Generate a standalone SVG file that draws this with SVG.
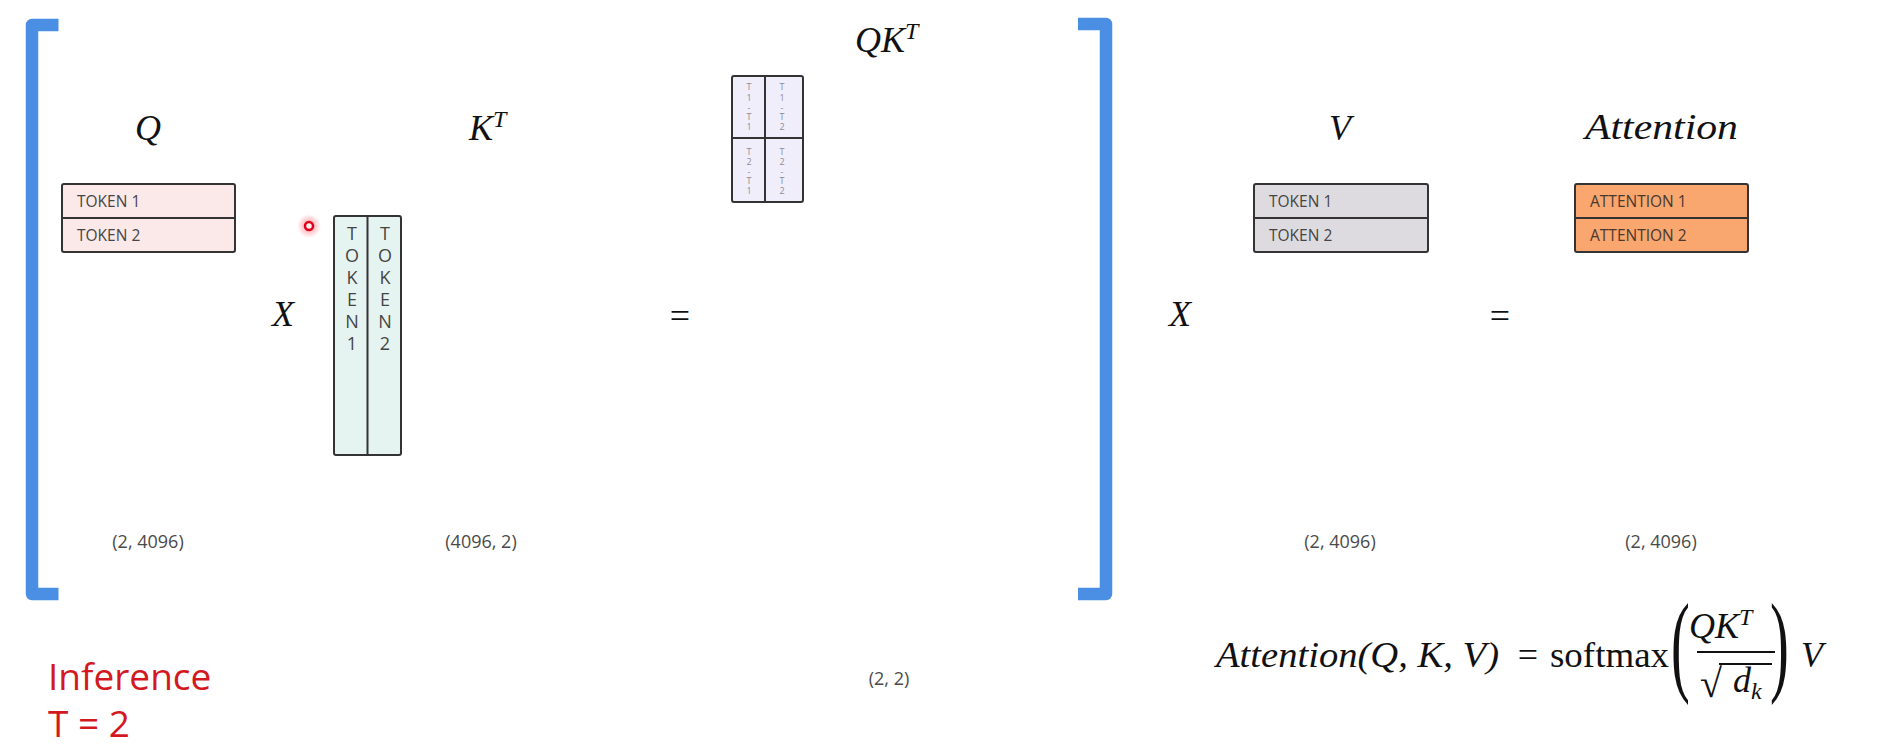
<svg xmlns="http://www.w3.org/2000/svg" width="1881" height="750" viewBox="0 0 1881 750">
<defs>
<radialGradient id="glow">
<stop offset="0" stop-color="#ff3040" stop-opacity="0.55"/>
<stop offset="1" stop-color="#ff3040" stop-opacity="0"/>
</radialGradient>
</defs>
<style>
.br{fill:none;stroke:#4a8fe4;stroke-width:12.5;stroke-linejoin:round}
.box{stroke:#333;stroke-width:2}
.div{stroke:#333;stroke-width:2}
.tk{font-family:"Open Sans","Liberation Sans",sans-serif;font-size:15.5px;fill:#454545}
.at{fill:#4a382e}
.vt{font-family:"Open Sans","Liberation Sans",sans-serif;font-size:18px;fill:#454545;text-anchor:middle}
.sm{font-family:"Open Sans","Liberation Sans",sans-serif;font-size:9px;fill:#8c8c98;text-anchor:middle}
.dim{font-family:"Open Sans","Liberation Sans",sans-serif;font-size:18px;fill:#4a4a4a;text-anchor:middle}
.m{font-family:"Liberation Serif","DejaVu Serif",serif;font-style:italic;font-size:36px;fill:#111}
.mu{font-family:"Liberation Serif","DejaVu Serif",serif;font-size:36px;fill:#111}
.sup{font-size:24px}
.red{font-family:"Open Sans","Liberation Sans",sans-serif;font-size:37px;fill:#d3191f}
</style>
<rect width="1881" height="750" fill="#ffffff"/>

<g id="brackets">
<path class="br" d="M58.5 25 H32 V594 H58.5"/>
<path class="br" d="M1078 24 H1106 V594 H1078"/>
</g>

<g id="connectors"/>

<g id="Q">
<text class="m" x="148" y="140" text-anchor="middle">Q</text>
<rect class="box" x="62" y="184" width="173" height="68" rx="2" fill="#fbe8e8"/>
<line class="div" x1="62" y1="218" x2="235" y2="218"/>
<text class="tk" x="77" y="207">TOKEN 1</text>
<text class="tk" x="77" y="241">TOKEN 2</text>
<text class="dim" x="148" y="548">(2, 4096)</text>
</g>

<g id="op-x1">
<text class="m" x="283" y="326" text-anchor="middle">X</text>
</g>

<g id="KT">
<text class="m" x="469" y="140">K<tspan class="sup" dy="-13">T</tspan></text>
<rect class="box" x="334" y="216" width="67" height="239" rx="2" fill="#e6f4f1"/>
<line class="div" x1="367.5" y1="216" x2="367.5" y2="455"/>
<text class="vt"><tspan x="352" y="240">T</tspan><tspan x="352" y="262">O</tspan><tspan x="352" y="284">K</tspan><tspan x="352" y="306">E</tspan><tspan x="352" y="328">N</tspan><tspan x="352" y="350">1</tspan></text>
<text class="vt"><tspan x="385" y="240">T</tspan><tspan x="385" y="262">O</tspan><tspan x="385" y="284">K</tspan><tspan x="385" y="306">E</tspan><tspan x="385" y="328">N</tspan><tspan x="385" y="350">2</tspan></text>
<text class="dim" x="481" y="548">(4096, 2)</text>
</g>

<g id="pointer">
<circle cx="309" cy="226" r="12" fill="url(#glow)"/>
<circle cx="309" cy="226" r="4" fill="#fff0f0" stroke="#e0001b" stroke-width="2.5"/>
</g>

<g id="op-eq1">
<text class="mu" x="680" y="328" text-anchor="middle">=</text>
</g>

<g id="QKT">
<text class="m" x="855" y="52">QK<tspan class="sup" dy="-13">T</tspan></text>
<rect class="box" x="732" y="76" width="71" height="126" rx="2" fill="#f1eefb"/>
<line class="div" x1="765" y1="76" x2="765" y2="202"/>
<line class="div" x1="732" y1="138" x2="803" y2="138"/>
<text class="sm"><tspan x="749" y="90">T</tspan><tspan x="749" y="101">1</tspan><tspan x="749" y="111">-</tspan><tspan x="749" y="120">T</tspan><tspan x="749" y="130">1</tspan></text>
<text class="sm"><tspan x="782" y="90">T</tspan><tspan x="782" y="101">1</tspan><tspan x="782" y="111">-</tspan><tspan x="782" y="120">T</tspan><tspan x="782" y="130">2</tspan></text>
<text class="sm"><tspan x="749" y="155">T</tspan><tspan x="749" y="165">2</tspan><tspan x="749" y="175">-</tspan><tspan x="749" y="184">T</tspan><tspan x="749" y="194">1</tspan></text>
<text class="sm"><tspan x="782" y="155">T</tspan><tspan x="782" y="165">2</tspan><tspan x="782" y="175">-</tspan><tspan x="782" y="184">T</tspan><tspan x="782" y="194">2</tspan></text>
<text class="dim" x="889" y="685">(2, 2)</text>
</g>

<g id="op-x2">
<text class="m" x="1180" y="326" text-anchor="middle">X</text>
</g>

<g id="V">
<text class="m" x="1340" y="140" text-anchor="middle">V</text>
<rect class="box" x="1254" y="184" width="174" height="68" rx="2" fill="#dedbe0"/>
<line class="div" x1="1254" y1="218" x2="1428" y2="218"/>
<text class="tk" x="1269" y="207">TOKEN 1</text>
<text class="tk" x="1269" y="241">TOKEN 2</text>
<text class="dim" x="1340" y="548">(2, 4096)</text>
</g>

<g id="op-eq2">
<text class="mu" x="1500" y="328" text-anchor="middle">=</text>
</g>

<g id="Attention">
<text class="m" x="1585" y="139" textLength="153" lengthAdjust="spacingAndGlyphs">Attention</text>
<rect class="box" x="1575" y="184" width="173" height="68" rx="2" fill="#f9a66f"/>
<line class="div" x1="1575" y1="218" x2="1748" y2="218"/>
<text class="tk at" x="1590" y="207">ATTENTION 1</text>
<text class="tk at" x="1590" y="241">ATTENTION 2</text>
<text class="dim" x="1661" y="548">(2, 4096)</text>
</g>

<g id="formula">
<text class="m" x="1216" y="667" textLength="283" lengthAdjust="spacingAndGlyphs">Attention(Q, K, V)</text>
<text class="mu" x="1528" y="667" text-anchor="middle">=</text>
<text class="mu" x="1550" y="667" textLength="119" lengthAdjust="spacingAndGlyphs">softmax</text>
<text class="mu" style="font-size:113px" transform="translate(1671 681) scale(0.5 1)">(</text>
<text class="m" x="1689" y="638">QK<tspan class="sup" dy="-13">T</tspan></text>
<line x1="1697" y1="652" x2="1775" y2="652" stroke="#111" stroke-width="2"/>
<text class="mu" style="font-size:40px" x="1700" y="697">√</text>
<line x1="1719" y1="664" x2="1772" y2="664" stroke="#111" stroke-width="2"/>
<text class="m" x="1733" y="692">d<tspan class="sup" dy="7">k</tspan></text>
<text class="mu" style="font-size:113px" transform="translate(1770 681) scale(0.5 1)">)</text>
<text class="m" x="1801" y="667">V</text>
</g>

<g id="label">
<text class="red" x="48" y="690">Inference</text>
<text class="red" x="48" y="737">T = 2</text>
</g>
</svg>
